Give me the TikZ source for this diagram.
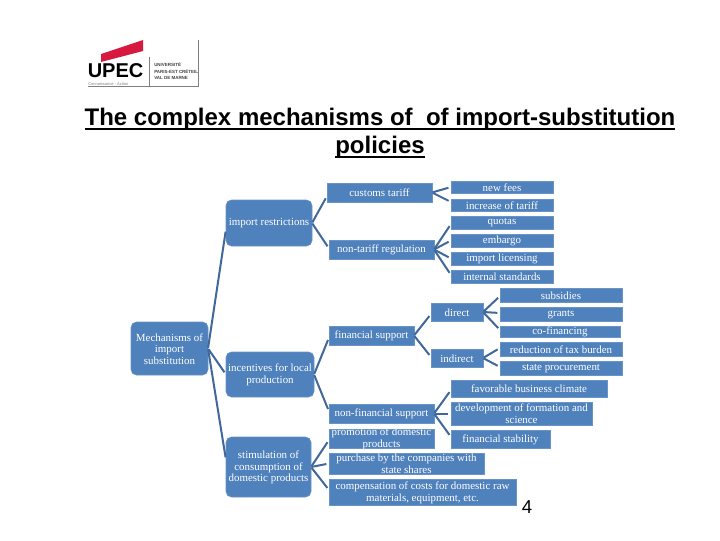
\documentclass[tikz,border=0pt]{standalone}
\usepackage{fontspec}
\setmainfont{Liberation Serif}
\newfontfamily\arial{Liberation Sans}
\definecolor{boxblue}{HTML}{4F81BD}
\definecolor{linkblue}{HTML}{41689A}
\definecolor{upecred}{HTML}{D8193F}
\newcommand{\bx}[7][0pt]{%
  \pgfmathsetmacro{\bxw}{(#5-#3)*0.75}\pgfmathsetmacro{\bxh}{(#6-#4)*0.75}%
  \node[boxnode,rounded corners=#1,minimum width=\bxw pt,minimum height=\bxh pt,
    label={[boxtext]center:#7}] (#2) at ({(#3+#5)/2},{(#4+#6)/2}) {};}
\newcommand{\ulin}[1]{\sbox0{#1}\rlap{\rule[-3pt]{\wd0}{1.4pt}}\box0}
\tikzset{
  boxnode/.style={fill=boxblue,draw=boxblue!85!white,line width=0.4pt,inner sep=0pt,outer sep=0pt},
  boxtext/.style={text=white,font=\fontsize{8.2}{8.8}\selectfont,align=center,inner sep=0pt,yshift=-0.4pt},
  link/.style={draw=linkblue,line width=1.5pt,shorten >=2pt,shorten <=0.5pt},
  logotext/.style={font=\arial\bfseries,inner sep=0pt,anchor=west}
}
\begin{document}
\begin{tikzpicture}[x=0.75pt,y=-0.75pt]
\useasboundingbox (0,0) rectangle (720,540);
\fill[white] (0,0) rectangle (720,540);
% logo
\fill[upecred] (101,54) -- (143,40) -- (143,51) -- (101,62) -- cycle;
\node[logotext,font=\arial\bfseries\fontsize{15}{15}\selectfont,text=black] (upec) at (87.5,71) {UPEC};
\node[logotext,font=\arial\fontsize{3}{3}\selectfont,text=gray] (upecsub) at (88,84) {Connaissance · Action};
\draw[gray,line width=0.5pt] (149,57) -- (149,86);
\draw[gray,line width=0.5pt] (88,86.5) -- (198,86.5) -- (198,40);
\node[logotext,font=\arial\bfseries\fontsize{3.35}{3.35}\selectfont,text=black!75] (u1) at (154,65) {UNIVERSITÉ};
\node[logotext,font=\arial\bfseries\fontsize{3.35}{3.35}\selectfont,text=black!75] (u2) at (154,71.5) {PARIS-EST CRÉTEIL};
\node[logotext,font=\arial\bfseries\fontsize{3.35}{3.35}\selectfont,text=black!75] (u3) at (154,78) {VAL DE MARNE};
% title
\node[font=\arial\bfseries\fontsize{18}{21}\selectfont,align=center,inner sep=0pt] (title) at (380,133.5)
  {\ulin{The complex mechanisms of\ \ of import-substitution}\\\ulin{policies}};
% boxes
\bx[4pt]{root}{131}{322}{208}{375}{Mechanisms of\\import\\substitution}
\bx[4pt]{imp}{226}{200}{312}{246}{import restrictions}
\bx[4pt]{inc}{226}{352}{314}{397}{incentives for local\\production}
\bx[4pt]{sti}{226}{437}{311}{497}{stimulation of\\consumption of\\domestic products}
\bx{cust}{327}{183}{432}{202}{customs tariff}
\bx{nont}{329}{240}{434}{259}{non-tariff regulation}
\bx{fees}{451}{181}{553}{193}{new fees}
\bx{incr}{451}{199}{553}{211}{increase of tariff}
\bx{quot}{451}{216}{553}{229}{quotas}
\bx{emba}{451}{234}{553}{247}{embargo}
\bx{lice}{451}{252}{553}{265}{import licensing}
\bx{inte}{451}{270}{553}{283}{internal standards}
\bx{fina}{329}{326}{414}{345}{financial support}
\bx{dire}{431}{303}{483}{321}{direct}
\bx{indi}{431}{349}{483}{367}{indirect}
\bx{subs}{500}{288}{622}{302}{subsidies}
\bx{gran}{500}{307}{622}{321}{grants}
\bx{cofi}{500}{326}{620}{337}{co-financing}
\bx{redu}{500}{342}{622}{356}{reduction of tax burden}
\bx{stat}{500}{361}{622}{375}{state procurement}
\bx{nonf}{329}{404}{434}{423}{non-financial support}
\bx{favo}{451}{380}{607}{397}{favorable business climate}
\bx{deve}{451}{402}{592}{425}{development of formation and\\science}
\bx{stab}{451}{430}{550}{448}{financial stability}
\bx{prom}{329}{429}{434}{448}{promotion of domestic\\products}
\bx{purc}{329}{453}{484}{474}{purchase by the companies with\\state shares}
\bx{comp}{329}{479}{516}{505}{compensation of costs for domestic raw\\materials, equipment, etc.}
% connectors
\foreach \a/\b/\dy in {root/imp/6,root/inc/0,root/sti/-7,imp/cust/3.5,imp/nont/-1,inc/fina/2,inc/nonf/-2,
  cust/fees/0,cust/incr/-3,nont/quot/1.5,nont/emba/0,nont/lice/0,nont/inte/-1.5,
  fina/dire/2,fina/indi/-1,dire/subs/1,dire/gran/-1,dire/cofi/-1.5,indi/redu/-1,indi/stat/-1,
  nonf/favo/1.5,nonf/deve/0,nonf/stab/-2,sti/prom/1.5,sti/purc/0,sti/comp/-2}
  \draw[link] (\a.east) -- ([yshift={-0.75pt*(\dy)}]\b.west);
% page number
\node[font=\arial\fontsize{14}{14}\selectfont,inner sep=0pt] (page) at (527,507) {4};
\end{tikzpicture}
\end{document}
